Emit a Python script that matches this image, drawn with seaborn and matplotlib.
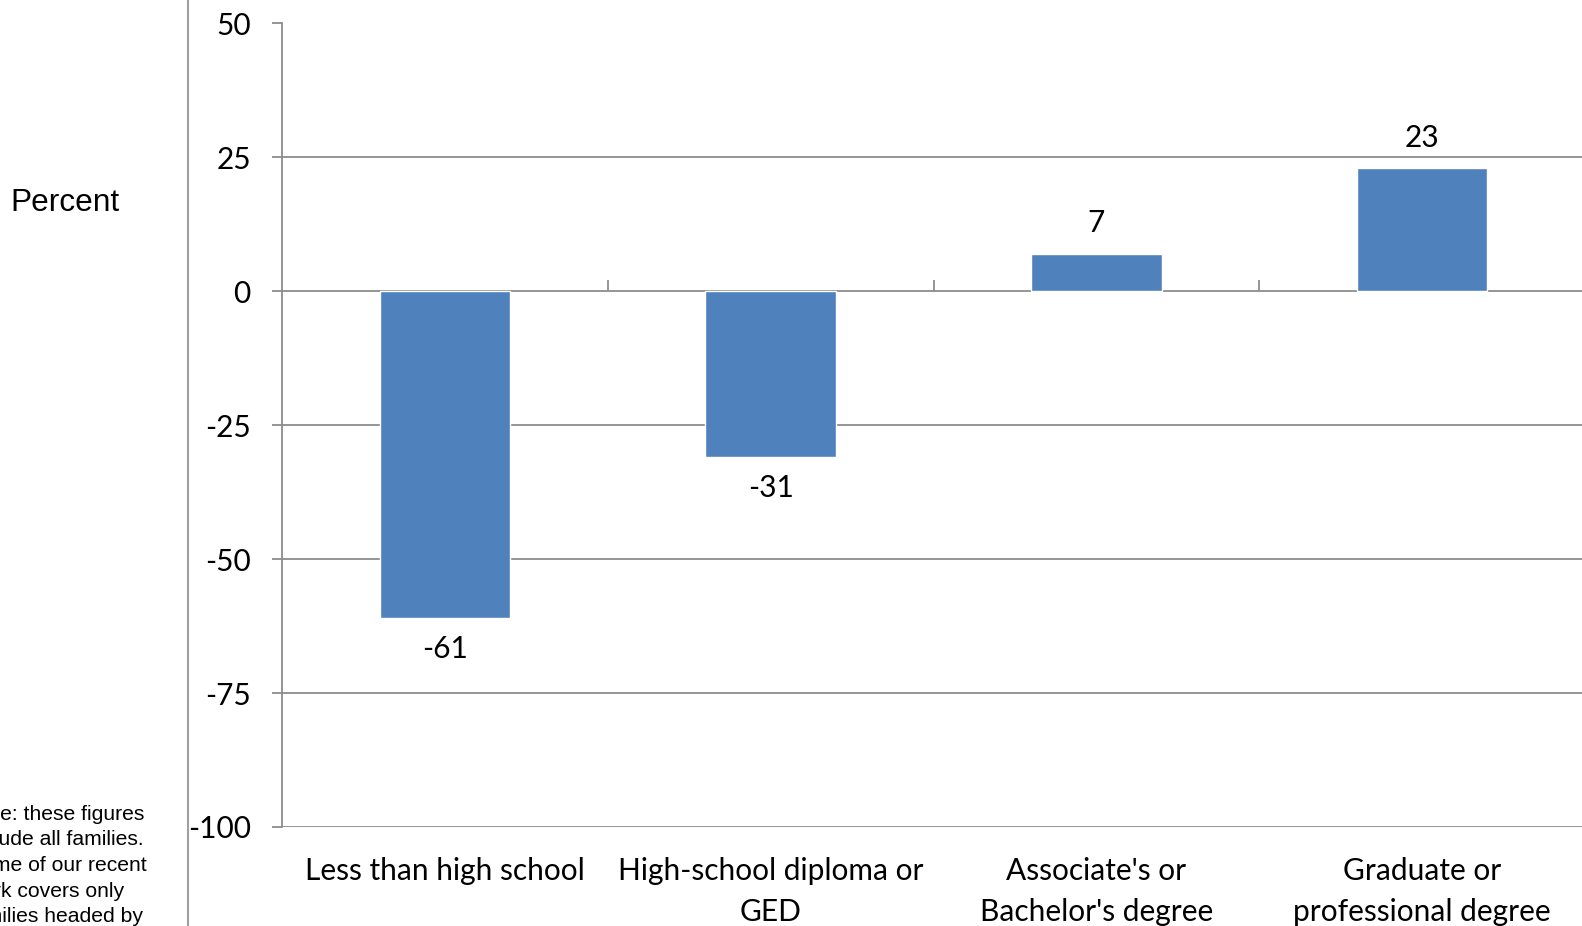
import matplotlib
matplotlib.use("Agg")
import matplotlib.pyplot as plt
import seaborn as sns
import pandas as pd

# Change in share, by education of family head (percent)
categories = [
    "Less than high school",
    "High-school diploma or\nGED",
    "Associate's or\nBachelor's degree",
    "Graduate or\nprofessional degree",
]
values = [-61, -31, 7, 23]
y_ticks = [-100, -75, -50, -25, 0, 25, 50]

note_lines = [
    "Note: these figures",
    "include all families.",
    "Some of our recent",
    "work covers only",
    "families headed by",
]

bar_color = "#4F81BD"
grid_color = "#8C8C8C"
label_font = "Lato"
label_size = 21.5

sns.set_theme(style="white")
plt.rcParams["font.family"] = [label_font, "DejaVu Sans"]

W, H = 1582, 926
fig = plt.figure(figsize=(W / 100, H / 100), dpi=100)
ax = fig.add_axes([282 / W, 1 - 827 / H, (1585 - 282) / W, (827 - 23.5) / H])

df = pd.DataFrame({"category": categories, "value": values})
sns.barplot(data=df, x="category", y="value", color=bar_color, width=0.4,
            saturation=1, ax=ax, zorder=3)

ax.set_ylim(-100, 50)
ax.set_xlim(-0.5, len(categories) - 0.5)
ax.set_yticks(y_ticks)
ax.set_yticklabels([str(t) for t in y_ticks])
ax.yaxis.grid(True, color=grid_color, linewidth=1.3)
ax.set_axisbelow(True)
ax.set_xlabel("")
ax.set_ylabel("")

for side in ["top", "right", "bottom"]:
    ax.spines[side].set_visible(False)
ax.spines["left"].set_color(grid_color)
ax.spines["left"].set_linewidth(1.3)

ax.tick_params(axis="y", which="major", left=True, length=7, width=1.3,
               color=grid_color, pad=15.5, labelsize=label_size, labelcolor="black")
ax.tick_params(axis="x", length=0, pad=21.5, labelsize=label_size, labelcolor="black")
for lbl in ax.get_xticklabels():
    lbl.set_linespacing(1.55)

# upward category-boundary ticks on the zero line
zero_frac = (0 - (-100)) / (50 - (-100))
sec = ax.secondary_xaxis(zero_frac)
sec.set_xticks([i + 0.5 for i in range(len(categories) - 1)])
sec.tick_params(axis="x", direction="out", length=8, width=1.3,
                color=grid_color, labelbottom=False, labeltop=False)
for s in sec.spines.values():
    s.set_visible(False)

# value labels
for i, v in enumerate(values):
    offset = 22 if v >= 0 else -22
    ax.annotate(f"{v}", xy=(i, v), xytext=(0, offset), textcoords="offset points",
                ha="center", va="center", fontsize=label_size, color="black")

# left panel
fig.add_artist(plt.Line2D([188 / W, 188 / W], [0, 1], color="#A0A0A0",
                          linewidth=1.5, transform=fig.transFigure))
fig.text(10 / W, 1 - 203 / H, "Percent", ha="left", va="center",
         fontsize=22.8, family=["Liberation Sans", "DejaVu Sans"], color="black")
fig.text(-33 / W, 1 - 804.5 / H, "\n".join(note_lines), ha="left", va="top",
         fontsize=15.2, family=["Liberation Sans", "DejaVu Sans"], color="black",
         linespacing=1.45)

fig.savefig("out.png", dpi=100, facecolor="white")
